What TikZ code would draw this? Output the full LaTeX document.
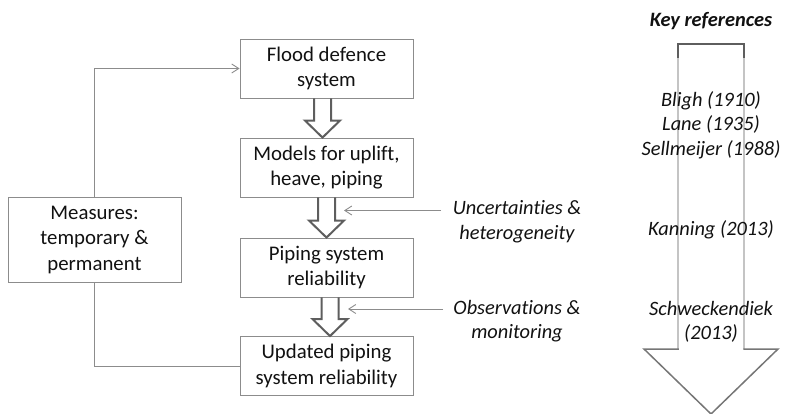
\documentclass[tikz,border=0pt]{standalone}
\usepackage{fontspec}
\setmainfont{Carlito}[Ligatures={NoCommon}]
\usetikzlibrary{arrows.meta,calc}
\definecolor{boxgray}{HTML}{8C8C8C}
\definecolor{arrgray}{HTML}{5E5E5E}
\definecolor{lightgray}{HTML}{C4C4C4}
\definecolor{headgray}{HTML}{767676}
\definecolor{txt}{HTML}{111111}
\tikzset{
  box/.style={draw=boxgray, line width=0.9pt, minimum width=173pt, minimum height=59pt,
    align=center, inner sep=0pt, text=txt, font=\fontsize{20.8}{25.2}\selectfont},
  lbl/.style={align=center, inner sep=0pt, text=txt, font=\fontsize{20.4}{24.6}\selectfont\itshape},
  feed/.style={draw=boxgray, line width=0.9pt},
  thinarr/.style={draw=boxgray, line width=0.9pt, -{Straight Barb[length=7pt,width=9pt]}},
  barrow/.style={draw=arrgray, line width=2pt, line join=miter},
}
\newcommand\blockarrow[3]{%
  \draw[barrow] ($(#1.south)+(#3-8.5,0)$) -- ($(#2.north)+(#3-8.5,-17)$)
    -- ($(#2.north)+(#3-17.5,-17)$) -- ($(#2.north)+(#3,0)$)
    -- ($(#2.north)+(#3+17.5,-17)$) -- ($(#2.north)+(#3+8.5,-17)$)
    -- ($(#1.south)+(#3+8.5,0)$);}
\begin{document}
\begin{tikzpicture}[x=1pt,y=-1pt]
\useasboundingbox (0,0) rectangle (791,414);
% boxes
\node[box] (b1) at (326.5,68.5) {Flood defence\\system};
\node[box] (b2) at (326.5,167.5) {Models for uplift,\\heave, piping};
\node[box] (b3) at (326.5,267.5) {Piping system\\reliability};
\node[box] (b4) at (326.5,366) {Updated piping\\system reliability};
\node[box, minimum height=85pt] (m) at (94.5,240) {Measures:\\temporary \&\\permanent};
% feedback loop
\draw[thinarr] (m.north) -- (m.north |- b1.west) -- (b1.west);
\draw[feed] (m.south) -- (m.south |- b4.west) -- (b4.west);
% block arrows
\blockarrow{b1}{b2}{-4}
\blockarrow{b2}{b3}{0}
\blockarrow{b3}{b4}{3.5}
% side inputs
\node[lbl] (unc) at (517,222) {Uncertainties \&\\heterogeneity};
\node[lbl] (obs) at (517,321) {Observations \&\\monitoring};
\coordinate (u1) at (441,210.5);
\coordinate (u2) at (344,210.5);
\coordinate (o1) at (443,309);
\coordinate (o2) at (348,309);
\draw[thinarr] (u1) -- (u2);
\draw[thinarr] (o1) -- (o2);
% key references arrow
\draw[lightgray, line width=1.5pt] (678,57) -- (678,349);
\draw[lightgray, line width=1.5pt] (744,57) -- (744,349);
\draw[headgray, line width=1.5pt, line join=miter]
  (678.75,349) -- (644,349) -- (711,414) -- (778,349) -- (743.25,349);
\draw[arrgray, line width=2pt, line join=miter] (678,58) -- (678,44) -- (744,44) -- (744,58);
\node[lbl, font=\fontsize{20.4}{24.6}\selectfont\bfseries\itshape] (key) at (711,21) {Key references};
\node[lbl] (r1) at (711,125) {Bligh (1910)\\Lane (1935)\\Sellmeijer (1988)};
\node[lbl] (r2) at (711,230) {Kanning (2013)};
\node[lbl] (r3) at (711,322) {Schweckendiek\\(2013)};
\end{tikzpicture}
\end{document}
